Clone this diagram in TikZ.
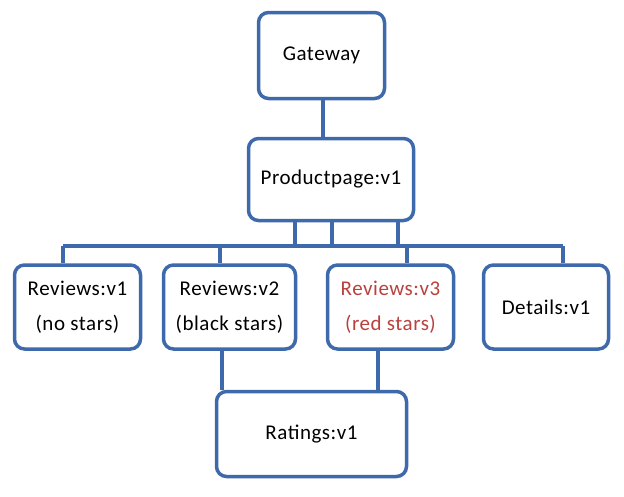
\documentclass[tikz,border=0pt]{standalone}
\usepackage{fontspec}
\setmainfont{Carlito}[LetterSpace=2.5]
\usetikzlibrary{positioning,calc}
\definecolor{boxblue}{RGB}{62,106,172}
\definecolor{starred}{RGB}{185,65,62}

\begin{document}
\begin{tikzpicture}[x=1pt, y=-1pt,
    svc/.style={draw=boxblue, line width=3.5pt, rounded corners=10pt, fill=white,
        align=center, inner sep=0pt, font=\fontsize{21}{35}\selectfont},
    link/.style={draw=boxblue, line width=3.5pt}]

    % cadre de l'image (624 x 496)
    \useasboundingbox (0,0) rectangle (624,496);

    % =========================================================================
    % SERVICES
    % =========================================================================
    \node[svc, minimum width=126pt, minimum height=86pt] (gateway) at (321.5,55.5) {Gateway};
    \node[svc, minimum width=165pt, minimum height=82pt] (product) at (331,179.5) {Productpage:v1};

    \node[svc, minimum width=126pt, minimum height=84pt] (revA) at (77.5,307) {Reviews:v1\\(no stars)};
    \node[svc, minimum width=132pt, minimum height=84pt] (revB) at (229.5,307) {Reviews:v2\\(black stars)};
    \node[svc, minimum width=126pt, minimum height=84pt, text=starred] (revC) at (390.5,307) {Reviews:v3\\(red stars)};
    \node[svc, minimum width=125pt, minimum height=84pt] (details) at (546,307) {Details:v1};

    \node[svc, minimum width=190pt, minimum height=85pt] (ratings) at (311.5,434) {Ratings:v1};

    % =========================================================================
    % LIAISONS
    % =========================================================================

    % Gateway -> Productpage
    \coordinate (gwLink) at (323,118);
    \draw[link] (gwLink |- gateway.south) -- (gwLink |- product.north);

    % bus horizontal sous Productpage
    \coordinate (busL) at (63,246);
    \coordinate (busR) at (563,246);
    \draw[link] (busL) -- (busR);

    % trois descentes depuis Productpage
    \foreach \tx/\tn in {295/tapA, 332/tapB, 398/tapC} {
        \coordinate (\tn) at (\tx,246);
        \draw[link] (\tn) -- (\tn |- product.south);
    }

    % descentes vers les services
    \coordinate (dropB) at (220,246);
    \coordinate (dropC) at (407,246);
    \draw[link] (busL) -- (busL |- revA.north);
    \draw[link] (dropB) -- (dropB |- revB.north);
    \draw[link] (dropC) -- (dropC |- revC.north);
    \draw[link] (busR) -- (busR |- details.north);

    % Reviews v2 / v3 -> Ratings
    \coordinate (rateB) at (222,370);
    \coordinate (rateC) at (378,370);
    \draw[link] (rateB |- revB.south) -- (rateB |- ratings.north);
    \draw[link] (rateC |- revC.south) -- (rateC |- ratings.north);

\end{tikzpicture}
\end{document}
